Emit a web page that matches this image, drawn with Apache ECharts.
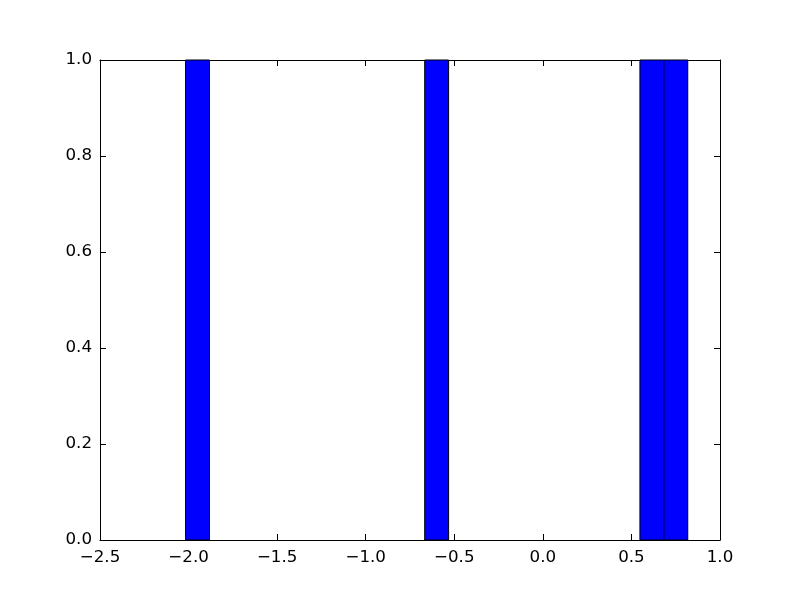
<!DOCTYPE html>
<html>
<head>
<meta charset="utf-8">
<script src="https://cdn.jsdelivr.net/npm/echarts@6/dist/echarts.min.js"></script>
<style>html,body{margin:0;padding:0;background:#fff;}#chart{width:800px;height:600px;}</style>
</head>
<body>
<div id="chart"></div>
<script>
// Histogram bins (left edge, right edge) and counts
const binLeft = [-2.017, -0.667, 0.548, 0.683];
const binRight = [-1.882, -0.532, 0.683, 0.818];
const counts = [1, 1, 1, 1];
const xTicks = [-2.5, -2.0, -1.5, -1.0, -0.5, 0.0, 0.5, 1.0];
const yTicks = [0.0, 0.2, 0.4, 0.6, 0.8, 1.0];

const font = 'DejaVu Sans';
const fmt = v => {
  const s = Number(v).toFixed(1);
  return s.replace('-', '\u2212');
};
const chart = echarts.init(document.getElementById('chart'), null, {renderer: 'canvas'});
const data = binLeft.map((l, i) => [l, binRight[i], counts[i]]);
function axisCommon() {
  return {
    axisLine: {show: true, onZero: false, lineStyle: {color: '#000', width: 1}},
    axisTick: {show: true, inside: true, length: 6, lineStyle: {color: '#000', width: 1}},
    splitLine: {show: false}
  };
}
chart.setOption({
  animation: false,
  backgroundColor: '#fff',
  grid: {left: 100, right: 80, top: 60, bottom: 60, containLabel: false},
  xAxis: [
    Object.assign({type: 'value', min: xTicks[0], max: xTicks[xTicks.length - 1], interval: 0.5, position: 'bottom',
      axisLabel: {show: true, color: '#000', fontFamily: font, fontSize: 16.7, margin: 9, formatter: fmt}}, axisCommon()),
    Object.assign({type: 'value', min: xTicks[0], max: xTicks[xTicks.length - 1], interval: 0.5, position: 'top',
      axisLabel: {show: false}}, axisCommon())
  ],
  yAxis: [
    Object.assign({type: 'value', min: yTicks[0], max: yTicks[yTicks.length - 1], interval: 0.2, position: 'left',
      axisLabel: {show: true, color: '#000', fontFamily: font, fontSize: 16.7, margin: 8, formatter: fmt}}, axisCommon()),
    Object.assign({type: 'value', min: yTicks[0], max: yTicks[yTicks.length - 1], interval: 0.2, position: 'right',
      axisLabel: {show: false}}, axisCommon())
  ],
  series: [{
    type: 'custom',
    xAxisIndex: 0,
    yAxisIndex: 0,
    data: data,
    encode: {x: [0, 1], y: 2},
    renderItem: function (params, api) {
      const p0 = api.coord([api.value(0), 0]);
      const p1 = api.coord([api.value(1), api.value(2)]);
      return {
        type: 'rect',
        shape: {x: p0[0], y: p1[1], width: p1[0] - p0[0], height: p0[1] - p1[1]},
        style: {fill: '#0000ff', stroke: '#000', lineWidth: 1}
      };
    }
  }]
});
</script>
</body>
</html>
